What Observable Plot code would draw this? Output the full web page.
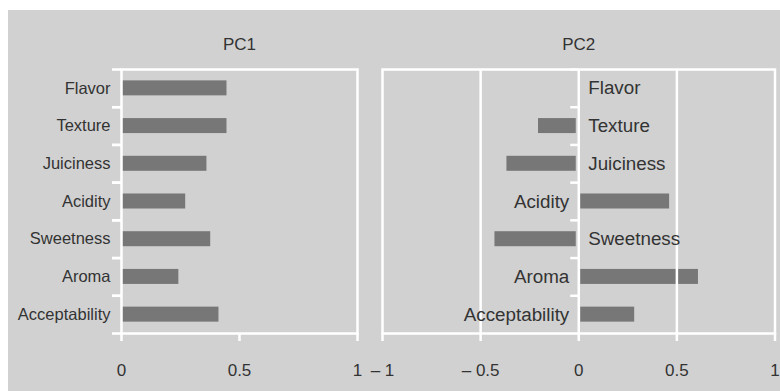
<!DOCTYPE html>
<html><head><meta charset="utf-8">
<script src="https://cdn.jsdelivr.net/npm/d3@7"></script>
<script src="https://cdn.jsdelivr.net/npm/@observablehq/plot@0.6"></script>
<style>
html,body{margin:0;padding:0;background:#fff;width:780px;height:391px;overflow:hidden;}
#bg{position:absolute;left:8px;top:10px;width:772px;height:381px;background:#d1d1d1;}
#p1{position:absolute;left:0;top:0;}
#p2{position:absolute;left:370px;top:0;}
svg{background:transparent !important;}
</style></head><body>
<div id="bg"></div><div id="p1"></div><div id="p2"></div>
<script>
const categories = ["Flavor","Texture","Juiciness","Acidity","Sweetness","Aroma","Acceptability"];
const pc1Values = [0.447,0.447,0.362,0.272,0.378,0.243,0.413];
const pc2Values = [0,-0.205,-0.366,0.463,-0.427,0.61,0.285];
const panelTitles = ["PC1","PC2"];
const pc1Ticks = [0,0.5,1];
const pc1TickLabels = ["0","0.5","1"];
const pc2Ticks = [-1,-0.5,0,0.5,1];
const pc2TickLabels = ["– 1","– 0.5","0","0.5","1"];
const pc2Grid = [-0.5,0,0.5];

const FONT = "'Liberation Sans', Arial, Helvetica, sans-serif";
const TEXT = "#333";
const BAR = "#777";
const H = 391, MT = 69, MB = 58;
const bw = (H - MT - MB) / categories.length;
const barInset = (bw - 15) / 2;

const d1 = categories.map((c, i) => ({cat: c, v: pc1Values[i]}));
const d2 = categories.map((c, i) => ({cat: c, v: pc2Values[i]}));

const common = {
  height: H, marginTop: MT, marginBottom: MB,
  style: {fontFamily: FONT, background: "transparent", color: TEXT, overflow: "visible"},
};

const p1 = Plot.plot({
  ...common,
  width: 370, marginLeft: 121, marginRight: 13,
  x: {domain: [0, 1], axis: null},
  y: {domain: categories, padding: 0, round: false, axis: null},
  marks: [
    Plot.barX(d1, {x: "v", y: "cat", fill: BAR, insetTop: barInset, insetBottom: barInset}),
    Plot.frame({stroke: "white", strokeWidth: 2.5}),
    Plot.ruleY(categories, {y: d => d, x1: 0, x2: 0, insetLeft: -9, dy: -bw/2, stroke: "white", strokeWidth: 2.5}),
    Plot.ruleY(categories, {y: d => d, x1: 0, x2: 0, insetLeft: -9, dy: bw/2, stroke: "white", strokeWidth: 2.5}),
    Plot.axisY({tickSize: 0, tickPadding: 11, fontSize: 16.5, fill: TEXT, label: null}),
    Plot.axisX({ticks: pc1Ticks, tickFormat: d => pc1TickLabels[pc1Ticks.indexOf(d)], tickSize: 8, tickPadding: 22, stroke: "white", strokeWidth: 2.5, fontSize: 17, fill: TEXT, label: null}),
    Plot.text([panelTitles[0]], {frameAnchor: "top", dy: -31.5, text: d => d, fontSize: 17, fill: TEXT})
  ]
});
document.getElementById("p1").appendChild(p1);

const p2 = Plot.plot({
  ...common,
  width: 410, marginLeft: 12, marginRight: 5.5,
  x: {domain: [-1, 1], axis: null},
  y: {domain: categories, padding: 0, round: false, axis: null},
  marks: [
    Plot.barX(d2.filter(d => d.v > 0), {x1: 0, x2: "v", y: "cat", fill: BAR, insetTop: barInset, insetBottom: barInset, insetLeft: 2}),
    Plot.barX(d2.filter(d => d.v < 0), {x1: 0, x2: "v", y: "cat", fill: BAR, insetTop: barInset, insetBottom: barInset, insetRight: 2.5}),
    Plot.ruleX(pc2Grid, {stroke: "white", strokeWidth: 2.5}),
    Plot.frame({stroke: "white", strokeWidth: 2.5}),
    Plot.ruleY(categories, {y: d => d, x1: 0, x2: 0, insetLeft: -8, dy: -bw/2, stroke: "white", strokeWidth: 2.5}),
    Plot.text(d2.filter(d => d.v > 0), {x: 0, y: "cat", text: "cat", textAnchor: "end", dx: -9.5, fontSize: 18.8, fill: TEXT}),
    Plot.text(d2.filter(d => d.v <= 0), {x: 0, y: "cat", text: "cat", textAnchor: "start", dx: 9.5, fontSize: 18.8, fill: TEXT}),
    Plot.axisX({ticks: pc2Ticks, tickFormat: d => pc2TickLabels[pc2Ticks.indexOf(d)], tickSize: 8, tickPadding: 22, stroke: "white", strokeWidth: 2.5, fontSize: 17, fill: TEXT, label: null}),
    Plot.text([panelTitles[1]], {frameAnchor: "top", dy: -31.5, text: d => d, fontSize: 17, fill: TEXT})
  ]
});
document.getElementById("p2").appendChild(p2);
</script>
</body></html>
